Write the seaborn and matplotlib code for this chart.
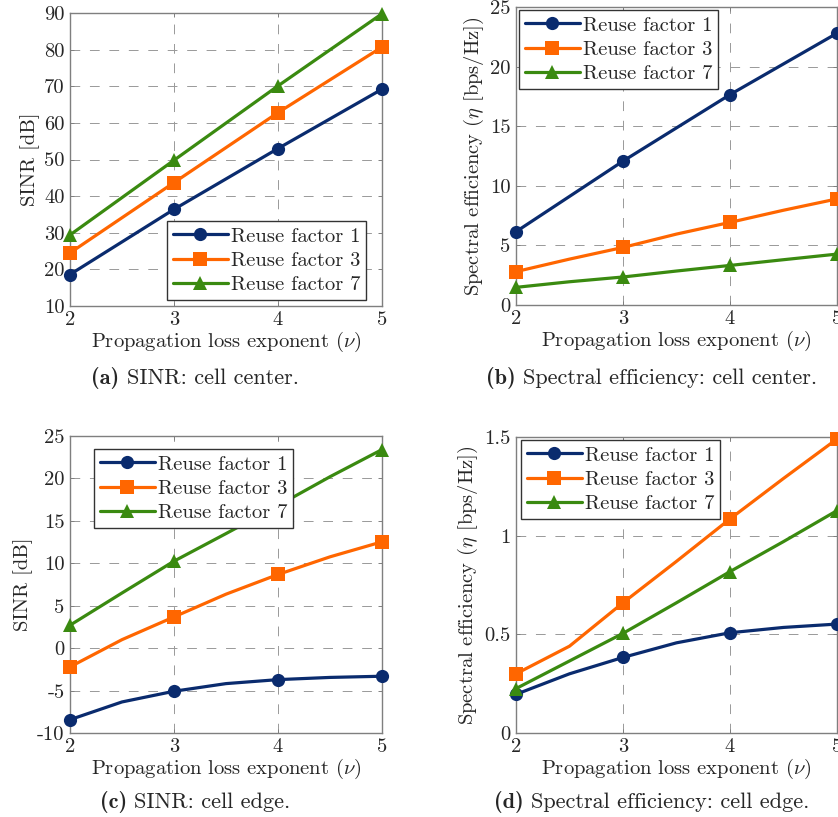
import numpy as np
import pandas as pd
import matplotlib
matplotlib.use("Agg")
import matplotlib.pyplot as plt
from matplotlib.lines import Line2D
from matplotlib.ticker import FixedLocator, FixedFormatter
import seaborn as sns

sns.set_theme(style="white")
plt.rcParams["font.family"] = ["cmr10", "DejaVu Serif"]
plt.rcParams["mathtext.fontset"] = "cm"
plt.rcParams["axes.unicode_minus"] = False
plt.rcParams["axes.formatter.use_mathtext"] = True

# ---------------- data ----------------
series_names = ["Reuse factor 1", "Reuse factor 3", "Reuse factor 7"]
nu_int = [2, 3, 4, 5]
nu_half = [2, 2.5, 3, 3.5, 4, 4.5, 5]

# (a) SINR cell center [dB]
a_r1 = [18.6, 36.4, 53.0, 69.2]
a_r3 = [24.5, 43.7, 62.8, 80.7]
a_r7 = [29.4, 49.8, 70.1, 89.8]

# (b) Spectral efficiency cell center [bps/Hz]
b_r1 = [6.15, 12.07, 17.65, 22.8]
b_r3 = [2.8, 3.85, 4.83, 5.95, 6.93, 7.95, 8.9]
b_r7 = [1.48, 1.95, 2.35, 2.85, 3.32, 3.8, 4.27]

# (c) SINR cell edge [dB]
c_r1 = [-8.43, -6.34, -5.08, -4.18, -3.71, -3.45, -3.31]
c_r3 = [-2.21, 1.0, 3.68, 6.36, 8.68, 10.76, 12.53]
c_r7 = [2.7, 6.5, 10.25, 13.5, 16.8, 20.2, 23.4]

# (d) Spectral efficiency cell edge [bps/Hz]
d_r1 = [0.196, 0.30, 0.383, 0.457, 0.508, 0.535, 0.552]
d_r3 = [0.30, 0.44, 0.66, 0.87, 1.085, 1.29, 1.49]
d_r7 = [0.225, 0.365, 0.505, 0.66, 0.818, 0.97, 1.127]

xticks = [2, 3, 4, 5]
a_yticks = [10, 20, 30, 40, 50, 60, 70, 80, 90]
b_yticks = [0, 5, 10, 15, 20, 25]
c_yticks = [-10, -5, 0, 5, 10, 15, 20, 25]
c_yticklabels = ["-10", "-5", "0", "5", "10", "15", "20", "25"]
d_yticks = [0, 0.5, 1, 1.5]
d_yticklabels = ["0", "0.5", "1", "1.5"]

xlabel_text = r"Propagation loss exponent ($\nu$)"
ylabel_sinr = "SINR [dB]"
ylabel_se = r"Spectral efficiency ($\eta$ [bps/Hz])"
captions = [("(a)", "SINR: cell center."),
            ("(b)", "Spectral efficiency: cell center."),
            ("(c)", "SINR: cell edge."),
            ("(d)", "Spectral efficiency: cell edge.")]

colors = ["#0a2b6e", "#ff6600", "#3a8a10"]
markers = ["o", "s", "^"]
msizes = [9.5, 9.5, 10]

FS = 14.8
CAP_FS = 16

W, H = 838, 817
fig = plt.figure(figsize=(W / 100, H / 100), dpi=100)


def px_axes(left, right, top, bottom):
    return fig.add_axes([left / W, 1 - bottom / H, (right - left) / W, (bottom - top) / H])


ax_a = px_axes(70, 382, 13, 306)
ax_b = px_axes(516, 837, 7, 305)
ax_c = px_axes(70, 382, 436, 733)
ax_d = px_axes(516, 837, 437, 733)

panels = [
    (ax_a, [a_r1, a_r3, a_r7], (10, 90), a_yticks, [str(v) for v in a_yticks], ylabel_sinr),
    (ax_b, [b_r1, b_r3, b_r7], (0, 25), b_yticks, [str(v) for v in b_yticks], ylabel_se),
    (ax_c, [c_r1, c_r3, c_r7], (-10, 25), c_yticks, c_yticklabels, ylabel_sinr),
    (ax_d, [d_r1, d_r3, d_r7], (0, 1.5), d_yticks, d_yticklabels, ylabel_se),
]

legend_boxes = [  # pixel (left, top) of legend frames
    (167, 221), (519, 10), (94, 449), (521, 440)
]

for i, (ax, ys, ylim, yt, ytl, ylab) in enumerate(panels):
    for k, y in enumerate(ys):
        x = nu_int if len(y) == 4 else nu_half
        mk = [j for j, xv in enumerate(x) if float(xv).is_integer()]
        df = pd.DataFrame({"nu": x, "val": y})
        sns.lineplot(data=df, x="nu", y="val", ax=ax, color=colors[k], lw=2.3,
                     marker=markers[k], markersize=msizes[k], markevery=mk,
                     markeredgewidth=0, legend=False, clip_on=False, zorder=3 + k)
    ax.set_xlim(2, 5)
    ax.set_ylim(*ylim)
    ax.xaxis.set_major_locator(FixedLocator(xticks))
    ax.xaxis.set_major_formatter(FixedFormatter([str(v) for v in xticks]))
    ax.yaxis.set_major_locator(FixedLocator(yt))
    ax.yaxis.set_major_formatter(FixedFormatter(ytl))
    ax.tick_params(axis="both", labelsize=FS, direction="in", length=3, width=0.7,
                   color="#808080", pad=4, bottom=True, left=True, top=True, right=True)
    ax.grid(True, color="#999999", linestyle=(0, (10, 10)), linewidth=0.7, zorder=0)
    for s in ax.spines.values():
        s.set_color("#7f7f7f")
        s.set_linewidth(1.0)
    ax.set_xlabel(xlabel_text, fontsize=FS, labelpad=0)
    ax.set_ylabel(ylab, fontsize=FS, labelpad=3)

    handles = [Line2D([], [], color=colors[k], lw=2.3, marker=markers[k],
                      markersize=msizes[k], markeredgewidth=0) for k in range(3)]
    lx, ly = legend_boxes[i]
    leg = fig.legend(handles, series_names, loc="upper left",
                     bbox_to_anchor=(lx / W, 1 - ly / H), fontsize=FS,
                     frameon=True, fancybox=False, framealpha=1, edgecolor="#333333",
                     handlelength=2.65, handletextpad=0.15, borderpad=0.3,
                     labelspacing=0.28, borderaxespad=0)
    leg.get_frame().set_linewidth(1.0)
    leg.set_zorder(10)

# captions
cap_pos = [(195, 378), (652, 378), (195, 802), (652, 802)]
for (lbl, txt), (cx, cy) in zip(captions, cap_pos):
    t1 = fig.text(0, 0, lbl + " ", fontsize=CAP_FS, family=["cmb10", "DejaVu Serif"], weight="bold")
    t2 = fig.text(0, 0, txt, fontsize=CAP_FS)
    fig.canvas.draw()
    r = fig.canvas.get_renderer()
    w1 = t1.get_window_extent(r).width
    w2 = t2.get_window_extent(r).width
    x0 = cx - (w1 + w2) / 2
    t1.set_position((x0 / W, 1 - cy / H))
    t1.set_va("center")
    t2.set_position(((x0 + w1) / W, 1 - cy / H))
    t2.set_va("center")

fig.savefig("out.png", dpi=100)
